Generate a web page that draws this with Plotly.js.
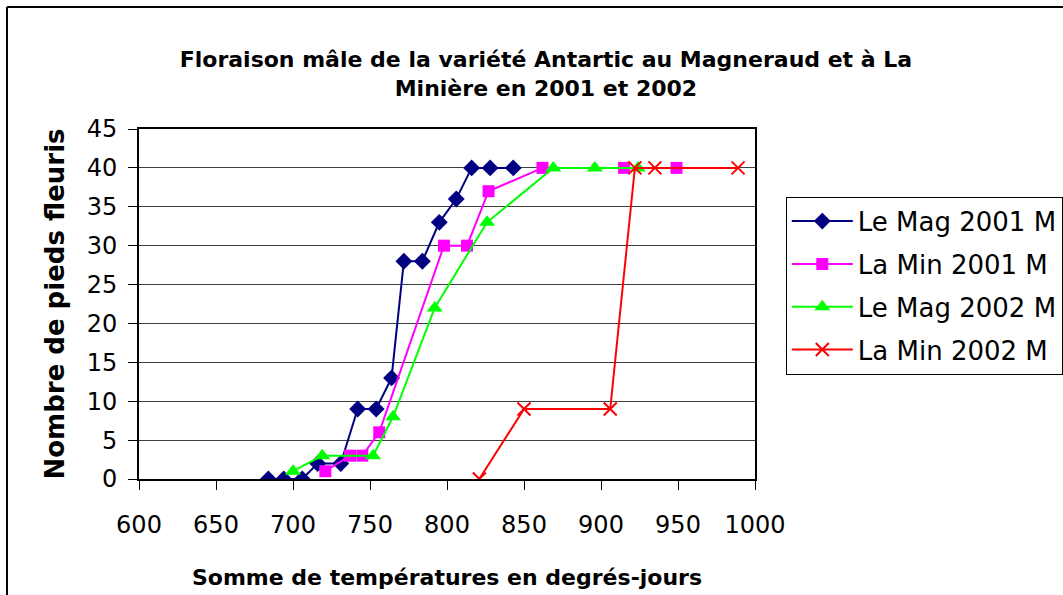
<!DOCTYPE html>
<html>
<head>
<meta charset="utf-8">
<script src="https://cdn.plot.ly/plotly-3.0.1.min.js"></script>
<style>
  html, body { margin: 0; padding: 0; background: #fff; overflow: hidden; }
  #chart { width: 1063px; height: 595px; }
</style>
</head>
<body>
<div id="chart"></div>
<script>
// Series names
const seriesNames = ["Le Mag 2001 M", "La Min 2001 M", "Le Mag 2002 M", "La Min 2002 M"];

// Le Mag 2001 M
const magX2001 = [684, 694, 706, 716, 731, 742, 754, 764, 772, 784, 795, 806, 816, 828, 843];
const magY2001 = [0, 0, 0, 2, 2, 9, 9, 13, 28, 28, 33, 36, 40, 40, 40];

// La Min 2001 M
const minX2001 = [721, 737, 745, 756, 798, 813, 827, 862, 915, 949];
const minY2001 = [1, 3, 3, 6, 30, 30, 37, 40, 40, 40];

// Le Mag 2002 M
const magX2002 = [700, 719, 752, 765, 792, 826, 869, 896, 924];
const magY2002 = [1, 3, 3, 8, 22, 33, 40, 40, 40];

// La Min 2002 M
const minX2002 = [821, 850, 906, 922, 935, 989];
const minY2002 = [0, 9, 9, 40, 40, 40];

const titleText = "Floraison mâle de la variété Antartic au Magneraud et à La<br>Minière en 2001 et 2002";
const xTitle = "Somme de températures en degrés-jours";
const yTitle = "Nombre de pieds fleuris";

const FONT = "DejaVu Sans, Arial, sans-serif";

const traces = [
  {
    x: magX2001, y: magY2001, name: seriesNames[0], legendgroup: "g1",
    type: "scatter", mode: "lines+markers",
    line: { color: "#000080", width: 2 },
    marker: { symbol: "diamond", size: 13, color: "#000080" }
  },
  {
    x: minX2001, y: minY2001, name: seriesNames[1], legendgroup: "g2",
    type: "scatter", mode: "lines+markers",
    line: { color: "#FF00FF", width: 2 },
    marker: { symbol: "square", size: 12, color: "#FF00FF" }
  },
  {
    x: magX2002, y: magY2002, name: seriesNames[2], legendgroup: "g3",
    type: "scatter", mode: "lines+markers",
    line: { color: "#00FF00", width: 2 },
    marker: { symbol: "triangle-up", size: 14, color: "#00FF00" }
  },
  {
    x: minX2002, y: minY2002, name: seriesNames[3], legendgroup: "g4",
    type: "scatter", mode: "lines+markers",
    line: { color: "#FF0000", width: 2 },
    marker: { symbol: "x-thin-open", size: 13, color: "#FF0000", line: { color: "#FF0000", width: 2 } }
  }
];

const layout = {
  width: 1063, height: 595,
  paper_bgcolor: "#ffffff", plot_bgcolor: "#ffffff",
  margin: { l: 139, r: 308, t: 129, b: 116, pad: 0, autoexpand: false },
  font: { family: FONT, color: "#000" },
  title: {
    text: titleText,
    font: { family: FONT, size: 22, weight: "bold", color: "#000" },
    xref: "container", x: 0.5136, xanchor: "center",
    yref: "container", y: 0.8874, yanchor: "middle"
  },
  xaxis: {
    range: [600, 1000], tick0: 600, dtick: 50,
    ticks: "outside", ticklen: 9, tickwidth: 1, tickcolor: "#000",
    showline: true, linewidth: 2, linecolor: "#000", mirror: true,
    showgrid: false, zeroline: false,
    tickfont: { family: FONT, size: 24, color: "#000" },
    ticklabelstandoff: 14,
    title: { text: xTitle, font: { family: FONT, size: 22, weight: "bold", color: "#000" }, standoff: 32 }
  },
  yaxis: {
    range: [0, 45], tick0: 0, dtick: 5,
    ticks: "outside", ticklen: 9, tickwidth: 1, tickcolor: "#000",
    showline: true, linewidth: 2, linecolor: "#000", mirror: true,
    showgrid: true, gridcolor: "#404040", gridwidth: 1, zeroline: false,
    tickfont: { family: FONT, size: 24, color: "#000" },
    ticklabelstandoff: 6,
    title: { text: yTitle, font: { family: FONT, size: 26, weight: "bold", color: "#000" }, standoff: 15 }
  },
  legend: {
    x: 1.05, xanchor: "left", y: 0.8066, yanchor: "top",
    bgcolor: "#ffffff", bordercolor: "#000", borderwidth: 1,
    font: { family: FONT, size: 26, color: "#000" },
    traceorder: "grouped", tracegroupgap: 6, itemwidth: 61
  },
  shapes: [
    { type: "line", xref: "paper", yref: "paper", x0: -0.2143, x1: -0.2143, y0: -0.5, y1: 1.3486, line: { color: "#000", width: 2 } },
    { type: "line", xref: "paper", yref: "paper", x0: -0.2143, x1: 1.6, y0: 1.3486, y1: 1.3486, line: { color: "#000", width: 2 } }
  ],
  showlegend: true
};

Plotly.newPlot("chart", traces, layout, { displayModeBar: false, staticPlot: true });
</script>
</body>
</html>
